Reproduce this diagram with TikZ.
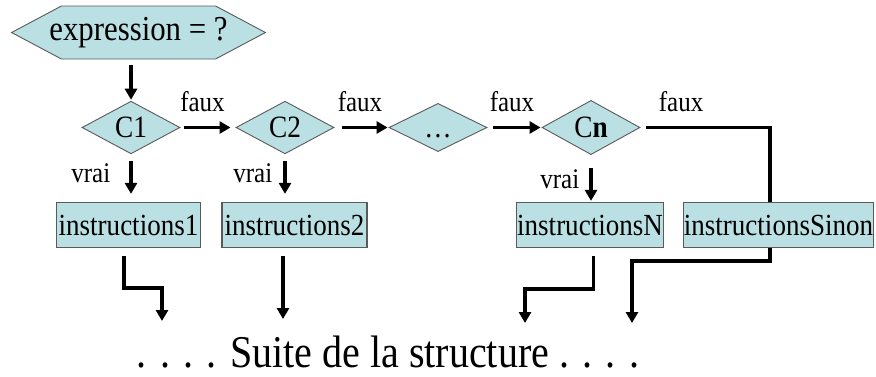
\documentclass[tikz,border=0pt]{standalone}
\usepackage{fontspec}
\setmainfont[FakeStretch=0.88]{Liberation Serif}
\usetikzlibrary{arrows.meta, positioning, shapes.geometric, shapes.symbols}
\definecolor{bleuclair}{RGB}{186,224,228}
\definecolor{bordgris}{RGB}{90,90,90}

\begin{document}
\begin{tikzpicture}[
        x=1pt, y=-1pt,
        selon/.style={signal, signal to=west and east, signal pointer angle=56, draw=bordgris, fill=bleuclair, line width=0.9pt, minimum height=53pt, inner xsep=-12pt, inner ysep=0pt, font=\fontsize{35}{37}\selectfont},
        cond/.style={diamond, draw=bordgris, fill=bleuclair, line width=0.9pt, minimum width=98pt, minimum height=46pt, inner sep=0pt, font=\fontsize{31}{33}\selectfont},
        bloc/.style={rectangle, draw=bordgris, fill=bleuclair, line width=1.2pt, minimum height=45pt, inner xsep=0.5pt, inner ysep=0pt, font=\fontsize{30.7}{33}\selectfont},
        etiq/.style={font=\fontsize{28.4}{30}\selectfont, inner sep=0pt},
        suite/.style={font=\fontsize{45.5}{48}\selectfont, inner sep=0pt},
        fleche/.style={-{Triangle[width=12pt,length=11pt]}, line width=3.5pt},
        ligne/.style={line width=3.5pt},
    ]
        \useasboundingbox (0,0) rectangle (876,376);

        % le selon et les conditions
        \node[selon] (expr) at (138.5,32.5) {expression = ?};
        \node[cond] (c1) at (131,127.5) {C1};
        \node[cond] (c2) at (285,127.5) {C2};
        \node[cond] (cdots) at (438,127.5) {\vphantom{C}…};
        \node[cond] (cn) at (591,127.5) {C\textbf{n}};

        % les blocs d'instructions
        \node[bloc, minimum width=144pt] (i1) at (128.5,225) {instructions1};
        \node[bloc, minimum width=145pt] (i2) at (294.5,225) {instructions2};
        \node[bloc] (iN) at (590,225) {instructionsN};
        \node[bloc] (iS) at (778.5,225) {instructionsSinon};

        \node[suite, anchor=base] (fin) at (388,367) {. . . . Suite de la structure . . . .};

        \coordinate (fin1) at (162,321);
        \coordinate (fin2) at (283,319);
        \coordinate (fin3) at (525,323);
        \coordinate (fin4) at (632,323);

        \draw[fleche] ([yshift=-6]expr.south -| c1.north) -- ([yshift=1]c1.north);

        \draw[fleche] ([xshift=4]c1.east) -- node[etiq, above=14pt, xshift=-5pt] {faux} ([xshift=-5]c2.west);
        \draw[fleche] ([xshift=8]c2.east) -- node[etiq, above=14pt, xshift=-5pt] {faux} ([xshift=-1]cdots.west);
        \draw[fleche] ([xshift=6]cdots.east) -- node[etiq, above=14pt, xshift=-5pt] {faux} ([xshift=-1]cn.west);
        \draw[ligne] ([xshift=6]cn.east) -| node[etiq, pos=0.14, above=14pt] {faux} ([xshift=-8.5]iS.north);

        \draw[fleche] ([yshift=-7]c1.south) -- node[etiq, left=19pt, yshift=4pt] {vrai} ([yshift=8]i1.north -| c1.south);
        \draw[fleche] ([yshift=-7]c2.south) -- node[etiq, left=11pt, yshift=4pt] {vrai} ([yshift=8]i2.north -| c2.south);
        \draw[fleche] ([yshift=-13]cn.south) -- node[etiq, left=10pt, yshift=5pt] {vrai} ([yshift=1]iN.north -| cn.south);

        \draw[fleche] ([shift={(-4.5,8)}]i1.south) -- ++(0,32) -| (fin1);
        \draw[fleche] ([shift={(-11.5,8)}]i2.south) -- (fin2);
        \draw[fleche] ([shift={(3.5,8)}]iN.south) -- ++(0,33) -| (fin3);
        \draw[fleche] ([xshift=-8.5]iS.south) -- ++(0,13) -| (fin4);
    \end{tikzpicture}
\end{document}
